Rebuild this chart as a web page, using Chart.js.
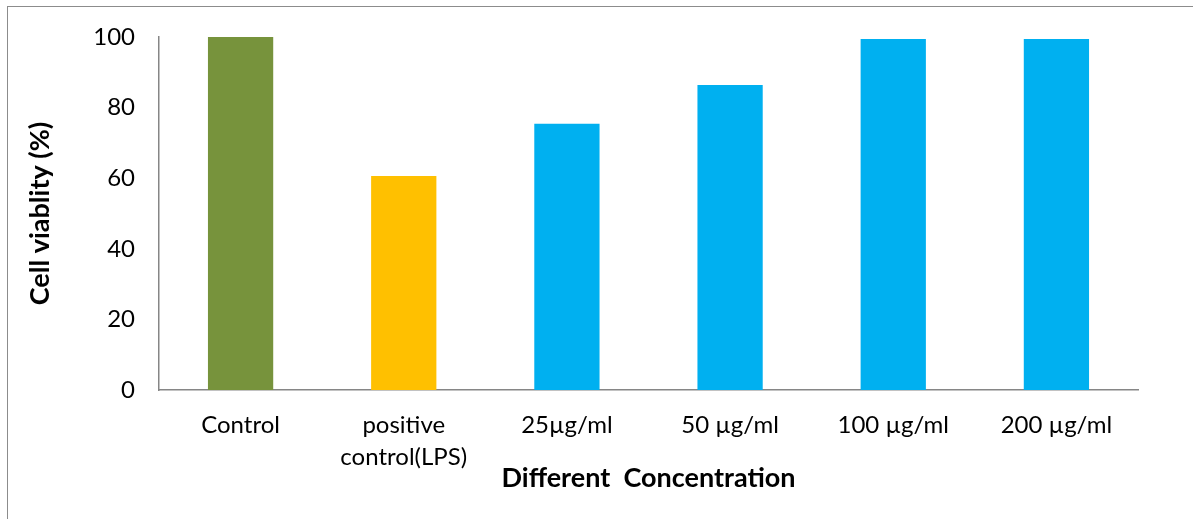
<!DOCTYPE html>
<html>
<head>
<meta charset="utf-8">
<script src="https://cdn.jsdelivr.net/npm/chart.js@4/dist/chart.umd.min.js"></script>
<style>
  html, body { margin: 0; padding: 0; background: #fff; }
  #wrap { position: relative; width: 1193px; height: 519px; }
  #frame { position: absolute; left: 7px; top: 6px; right: -2px; bottom: -2px; border: 1px solid #8c8c8c; }
</style>
</head>
<body>
<div id="wrap">
  <div id="frame"></div>
  <canvas id="chart"></canvas>
</div>
<script>
const categories = ["Control", ["positive", "control(LPS)"], "25µg/ml", "50 µg/ml", "100 µg/ml", "200 µg/ml"];
const viability = [100, 60.6, 75.4, 86.4, 99.4, 99.4];
const barColors = ["#77933c", "#ffc000", "#00b0f0", "#00b0f0", "#00b0f0", "#00b0f0"];
const yTicks = [0, 20, 40, 60, 80, 100];

const FONT = "Lato, 'Open Sans', sans-serif";
const axisColor = "#868686";

const ctx = document.getElementById("chart").getContext("2d");

const viabilityChart = new Chart(ctx, {
  type: "bar",
  data: {
    labels: categories,
    datasets: [
      {
        data: viability,
        backgroundColor: barColors,
        categoryPercentage: 1,
        barPercentage: 0.4,
      },
    ],
  },
  options: {
    responsive: true,
    maintainAspectRatio: false,
    animation: false,
    layout: { padding: { left: 0, top: 37, right: 55, bottom: 0 } },
    plugins: { legend: { display: false }, tooltip: { enabled: false } },
    scales: {
      x: {
        grid: { display: false, drawTicks: false },
        border: { color: axisColor, width: 1.5 },
        ticks: { color: "#000", font: { family: FONT, size: 24, lineHeight: 1.3 }, padding: 20, maxRotation: 0, autoSkip: false },
        title: {
          display: true,
          text: "Different  Concentration",
          color: "#000",
          font: { family: FONT, size: 27, weight: "bold" },
          padding: { top: 0, bottom: 25 },
        },
        afterFit: (scale) => {
          scale.height = 129;
          scale.paddingTop = 0;
        },
      },
      y: {
        min: 0,
        max: 100,
        afterBuildTicks: (scale) => { scale.ticks = yTicks.map((v) => ({ value: v })); },
        grid: { display: false, drawTicks: false },
        border: { color: axisColor, width: 1.5 },
        ticks: { color: "#000", font: { family: FONT, size: 24 }, padding: 24 },
        title: {
          display: true,
          text: "Cell viablity (%)",
          color: "#000",
          font: { family: FONT, size: 27, weight: "bold" },
          padding: { top: 24, bottom: 0 },
        },
        afterFit: (scale) => {
          scale.width = 159;
          scale.paddingTop = 0;
        },
      },
    },
  },
});
</script>
</body>
</html>
